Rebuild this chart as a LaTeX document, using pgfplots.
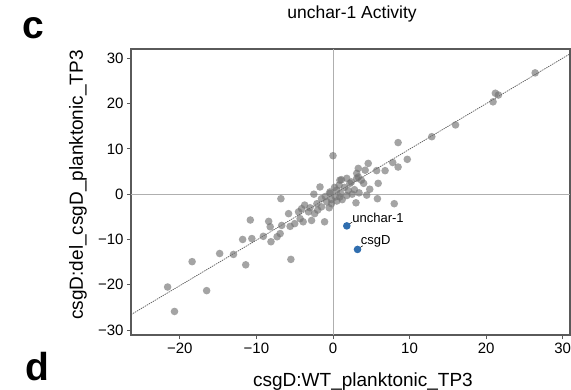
\documentclass[border=0pt]{standalone}
\usepackage{fontspec}
\setmainfont{Liberation Sans}
\usepackage{pgfplots}
\pgfplotsset{compat=1.18}
\definecolor{ptgray}{RGB}{115,115,115}
\definecolor{ptblue}{RGB}{48,110,175}
\definecolor{framegray}{RGB}{90,90,90}
\definecolor{zerogray}{RGB}{175,175,175}
\begin{document}
\begin{tikzpicture}
\begin{axis}[
  at={(131pt,54pt)}, anchor=south west,
  scale only axis, width=439pt, height=286pt,
  xmin=-26.38, xmax=30.95, ymin=-31.1, ymax=32.07,
  axis line style={framegray, line width=1.2pt},
  xtick={-20,-10,0,10,20,30},
  xticklabels={−20,−10,0,10,20,30},
  ytick={-30,-20,-10,0,10,20,30},
  yticklabels={−30,−20,−10,0,10,20,30},
  xtick pos=bottom, ytick pos=left,
  tick align=outside, major tick length=4pt,
  tick style={framegray, line width=0.9pt},
  ticklabel style={font=\fontsize{15}{15}\selectfont},
  /pgf/number format/assume math mode=true,
  clip=true,
]
% zero lines
\addplot[zerogray, line width=0.9pt] coordinates {(0,-31.1) (0,32.07)};
\addplot[zerogray, line width=0.9pt] coordinates {(-26.38,0) (30.95,0)};
% regression line
\addplot[framegray, line width=0.7pt, dash pattern=on 1.4pt off 0.9pt] coordinates {(-26.38,-26.6) (30.95,31.0)};
% gray points
\addplot[only marks, mark=*, color=ptgray, mark size=3.8pt, mark options={draw opacity=0, fill=ptgray, fill opacity=0.65}] coordinates {
(26.4,26.8) (21.2,22.3) (21.6,21.9) (20.9,20.4) (16.0,15.3) (12.9,12.7)
(8.5,11.4) (9.7,7.7) (8.5,6.0) (7.8,7.0) (6.8,5.2) (5.7,5.2) (4.6,6.8)
(3.3,5.7) (4.2,5.3) (3.1,4.6) (5.9,2.4) (4.8,1.1) (4.4,-0.2) (3.4,0.3)
(5.8,-1.0) (3.0,-1.9) (8.0,-2.1) (3.1,3.5) (3.7,3.1) (2.4,2.7) (1.1,3.2)
(1.8,3.5) (2.2,2.4) (3.3,3.8) (4.0,2.4) (0.9,3.1) (0.0,8.5) (-1.7,1.6)
(-2.5,0.0) (-6.8,-1.0) (-0.4,0.5) (0.5,0.9) (-0.4,0.2) (0.3,-0.6) (0.9,-0.6)
(-0.8,-1.7) (-0.2,-2.1) (-2.1,-2.1) (-4.1,-3.2) (-3.7,-2.4) (-4.5,-3.9)
(-3.2,-3.9) (-2.4,-4.3) (-5.8,-4.3) (-1.1,-6.1) (-2.8,-5.8) (-5.0,-6.5)
(-4.3,-5.4) (-3.9,-6.1) (-5.6,-7.1) (-8.4,-6.0) (-8.2,-7.2) (-6.7,-6.9)
(-6.9,-8.7) (-7.3,-9.4) (-8.1,-10.5) (-9.1,-9.3) (-10.6,-9.8) (-11.8,-10.0)
(-10.8,-5.7) (-13.0,-13.3) (-14.8,-13.1) (-11.4,-15.6) (-5.5,-14.4)
(-18.4,-14.9) (-16.5,-21.3) (-21.6,-20.5) (-20.7,-25.9)
(1.5,1.5) (2.0,0.8) (1.0,0.2) (0.2,1.5) (1.2,-1.2) (2.5,0.0) (-1.0,-0.5)
(-1.5,-1.0) (0.5,-1.5) (1.8,-0.3) (-0.2,-1.2) (0.8,2.0) (2.8,1.0)
(-3.0,-3.0) (-2.0,-3.5) (-1.5,-2.8) (-0.5,-3.0)
};
% highlighted points
\addplot[only marks, mark=*, color=ptblue, mark size=3.8pt, mark options={draw opacity=0, fill=ptblue}] coordinates {(1.8,-7.0) (3.2,-12.2)};
% leader lines
\addplot[black, line width=0.5pt] coordinates {(1.9,-6.8) (2.5,-6.2)};
\addplot[black, line width=0.5pt] coordinates {(3.3,-12.0) (3.9,-11.4)};
\node[anchor=west, inner sep=0pt, font=\fontsize{13}{13}\selectfont] at (axis cs:2.5,-5.3) {unchar-1};
\node[anchor=west, inner sep=0pt, font=\fontsize{13}{13}\selectfont] at (axis cs:3.6,-10.4) {csgD};
\end{axis}
\node[anchor=base, inner sep=0pt, font=\fontsize{17.5}{17.5}\selectfont] at (352pt,370pt) {unchar-1 Activity};
\node[anchor=base, inner sep=0pt, font=\bfseries\fontsize{39}{39}\selectfont] at (33pt,350pt) {c};
\node[anchor=base, inner sep=0pt, font=\bfseries\fontsize{39}{39}\selectfont] at (37pt,9pt) {d};
\node[rotate=90, anchor=center, inner sep=0pt, font=\fontsize{19}{19}\selectfont] at (78pt,204pt) {csgD:del\_csgD\_planktonic\_TP3};
\node[anchor=base, inner sep=0pt, font=\fontsize{19}{19}\selectfont] at (363pt,3pt) {csgD:WT\_planktonic\_TP3};
\pgfresetboundingbox
\useasboundingbox (0,0) rectangle (571pt,389pt);
\end{tikzpicture}
\end{document}
